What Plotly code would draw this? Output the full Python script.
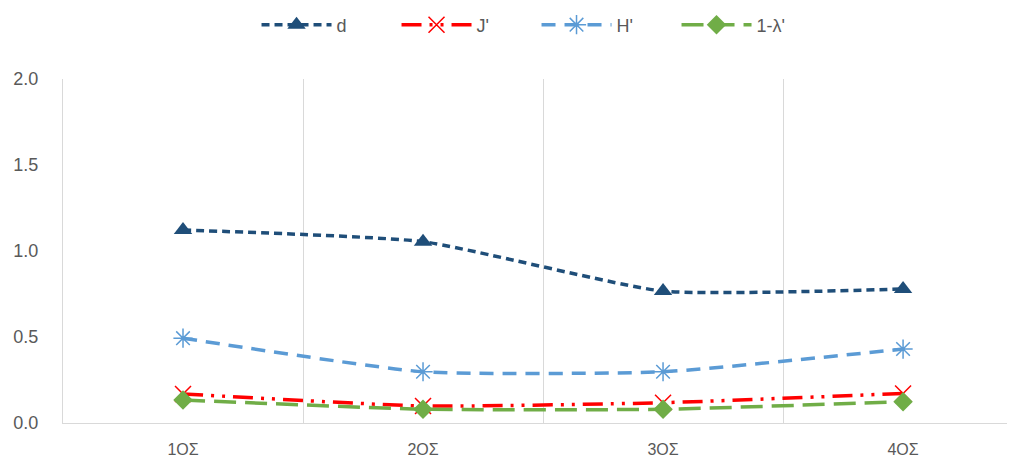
import plotly.graph_objects as go

categories = ["1ΟΣ", "2ΟΣ", "3ΟΣ", "4ΟΣ"]
d_vals = [1.122, 1.054, 0.767, 0.779]
j_vals = [0.169, 0.099, 0.118, 0.172]
h_vals = [0.493, 0.298, 0.298, 0.430]
l_vals = [0.134, 0.080, 0.080, 0.124]
y_ticks = [0.0, 0.5, 1.0, 1.5, 2.0]

xs = list(range(len(categories)))

fig = go.Figure()
fig.add_trace(go.Scatter(
    x=xs, y=d_vals, name="d", mode="lines+markers",
    line=dict(color="#1F4E79", width=3.5, dash="8px,5px", shape="spline", smoothing=0.5),
    marker=dict(symbol="triangle-up", size=16, color="#1F4E79"),
))
fig.add_trace(go.Scatter(
    x=xs, y=j_vals, name="J'", mode="lines+markers",
    line=dict(color="#FF0000", width=3.5, dash="20px,8px,3px,8px,3px,8px", shape="spline", smoothing=0.5),
    marker=dict(symbol="x-thin-open", size=16, color="#FF0000", line=dict(color="#FF0000", width=1.5)),
))
fig.add_trace(go.Scatter(
    x=xs, y=h_vals, name="H'", mode="lines+markers",
    line=dict(color="#5B9BD5", width=3.5, dash="14px,9px", shape="spline", smoothing=0.5),
    marker=dict(symbol="asterisk-open", size=16, color="#5B9BD5", line=dict(color="#5B9BD5", width=1.5)),
))
fig.add_trace(go.Scatter(
    x=xs, y=l_vals, name="1-λ'", mode="lines+markers",
    line=dict(color="#70AD47", width=3.5, dash="22px,9px", shape="spline", smoothing=0.5),
    marker=dict(symbol="diamond", size=15, color="#70AD47"),
))

fig.update_layout(
    width=1009, height=459,
    margin=dict(l=63, r=2, t=79, b=36, autoexpand=False),
    paper_bgcolor="white", plot_bgcolor="white",
    font=dict(family="Liberation Sans, Arial, sans-serif", color="#595959", size=18),
    showlegend=True,
    legend=dict(orientation="h", x=0.205, xanchor="left", y=1.157, yanchor="middle",
                font=dict(size=18, color="#595959"), itemwidth=70, entrywidth=55),
    xaxis=dict(
        range=[-0.5, 3.433], tickvals=xs, ticktext=categories,
        showgrid=False, zeroline=False, showline=True, linecolor="#D9D9D9", linewidth=1,
        tickfont=dict(size=16, color="#595959"), ticks="", ticklabelstandoff=12,
        minor=dict(tick0=0.5, dtick=1, showgrid=True, gridcolor="#D9D9D9", gridwidth=1, ticks=""),
    ),
    yaxis=dict(
        range=[0, 2.0], tickvals=y_ticks, ticktext=[f"{v:.1f}" for v in y_ticks],
        showgrid=False, zeroline=False, showline=True, linecolor="#D9D9D9", linewidth=1,
        ticks="", ticklabelstandoff=20,
    ),
)
fig.write_html("out.html")
